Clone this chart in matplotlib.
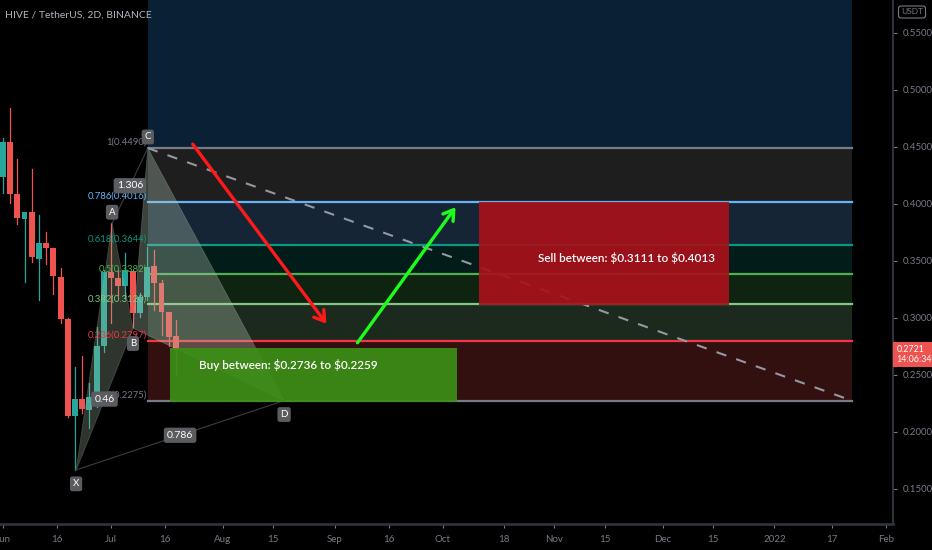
import numpy as np
import matplotlib
matplotlib.use("Agg")
from matplotlib import pyplot as plt
from matplotlib.patches import Polygon, Rectangle

plt.rcParams['font.family'] = ['Lato', 'DejaVu Sans']

# candles, 2D bars, day offset from 2021-06-01
base = np.datetime64('2021-06-01')
days = np.arange(0, 50, 2)
opens = [0.4234, 0.4541, 0.4085, 0.3866, 0.3930, 0.3520, 0.3655, 0.3611, 0.3362, 0.2989,
         0.2143, 0.2292, 0.2193, 0.2281, 0.2757, 0.3406, 0.3348, 0.3280, 0.3412, 0.3047,
         0.3187, 0.3459, 0.3304, 0.3055, 0.2842]
closes = [0.4546, 0.4088, 0.3875, 0.3930, 0.3538, 0.3655, 0.3611, 0.3368, 0.2989, 0.2143,
          0.2287, 0.2199, 0.2304, 0.2757, 0.3403, 0.3348, 0.3280, 0.3421, 0.3047, 0.3187,
          0.3450, 0.3304, 0.3055, 0.2836, 0.2721]
highs = [0.4579, 0.4840, 0.4392, 0.3930, 0.4307, 0.3904, 0.3754, 0.3611, 0.3441, 0.2997,
         0.2567, 0.2667, 0.2430, 0.2924, 0.3420, 0.3830, 0.3420, 0.3570, 0.3420, 0.3217,
         0.3625, 0.3596, 0.3333, 0.3055, 0.2982]
lows = [0.4096, 0.4006, 0.3825, 0.3318, 0.3494, 0.3158, 0.3471, 0.3208, 0.2959, 0.2134,
        0.1667, 0.2164, 0.2035, 0.2222, 0.2704, 0.2954, 0.3200, 0.3173, 0.2910, 0.3011,
        0.3158, 0.3070, 0.2851, 0.2750, 0.2500]

# fib retracement
fib_ratios = [1, 0.786, 0.618, 0.5, 0.382, 0.236, 0]
fib_prices = [0.4490, 0.4016, 0.3644, 0.3382, 0.3120, 0.2797, 0.2275]
fib_colors = ['#787b86', '#64b5f6', '#089981', '#4caf50', '#81c784', '#f23645', '#787b86']
fib_fills = ['#1e1e1f', '#152536', '#021c1a', '#0f2311', '#1b2a1d', '#331010']
fib_top_fill = '#0a2135'
fib_x = [40.2, 235.5]

# harmonic pattern points
pat_names = ['X', 'A', 'B', 'C', 'D']
pat_x = [20.3, 30.3, 36.1, 40.2, 78.0]
pat_y = [0.1667, 0.3830, 0.2910, 0.4490, 0.2275]

# zones
buy_x = [46.3, 126.0]
buy_y = [0.2259, 0.2736]
sell_x = [132.0, 201.4]
sell_y = [0.3111, 0.4013]

red_arrow = [(52.2, 0.4544), (90.2, 0.2930)]
green_arrow = [(97.9, 0.2763), (126.0, 0.3991)]

tick_dates = ['2021-06-01', '2021-06-16', '2021-07-01', '2021-07-16', '2021-08-01', '2021-08-15',
              '2021-09-01', '2021-09-16', '2021-10-01', '2021-10-18', '2021-11-01', '2021-11-15',
              '2021-12-01', '2021-12-15', '2022-01-01', '2022-01-17', '2022-02-01']
tick_labels = ['Jun', '16', 'Jul', '16', 'Aug', '15', 'Sep', '16', 'Oct', '18', 'Nov', '15',
               'Dec', '15', '2022', '17', 'Feb']
price_ticks = [0.15, 0.20, 0.25, 0.30, 0.35, 0.40, 0.45, 0.50, 0.55]
last_price = 0.2721

fig = plt.figure(figsize=(9.32, 5.5), dpi=100, facecolor='black')
ax = fig.add_axes([0, 26 / 550, 893 / 932, 524 / 550], facecolor='black')
ax.set_xlim(-0.8, 246.9)
ax.set_ylim(0.1193, 0.5789)

# fib fills and lines
x0, x1 = fib_x
ax.add_patch(Rectangle((x0, fib_prices[0]), x1 - x0, 1, color=fib_top_fill, zorder=1, lw=0))
for i in range(len(fib_fills)):
    ax.add_patch(Rectangle((x0, fib_prices[i + 1]), x1 - x0, fib_prices[i] - fib_prices[i + 1],
                           color=fib_fills[i], zorder=1, lw=0))
for r, p, c in zip(fib_ratios, fib_prices, fib_colors):
    ax.plot([x0, x1], [p, p], color=c, lw=1.6, zorder=2)
    ax.text(x0 - 0.3, p + 0.001, "%g(%.4f)" % (r, p), color=c, fontsize=6.8,
            ha='right', va='bottom', zorder=6)

# candles
for d, o, h, l, c in zip(days, opens, highs, lows, closes):
    col = '#26a69a' if c >= o else '#ef5350'
    ax.plot([d, d], [l, h], color=col, lw=0.9, zorder=3)
    ax.bar(d, abs(c - o) if abs(c - o) > 0.0005 else 0.0008, width=1.65,
           bottom=min(o, c), color=col, zorder=3)

# harmonic triangles
P = list(zip(pat_x, pat_y))
ax.add_patch(Polygon([P[0], P[1], P[2]], closed=True, facecolor='#a8c0a0', alpha=0.28,
                     edgecolor='#a8c0a0', lw=0.5, zorder=4))
ax.add_patch(Polygon([P[2], P[3], P[4]], closed=True, facecolor='#b8ccb8', alpha=0.32,
                     edgecolor='#b8ccb8', lw=0.5, zorder=4))
for a, b in [(0, 2), (1, 3), (0, 4)]:
    ax.plot([P[a][0], P[b][0]], [P[a][1], P[b][1]], color='#3a3d42', lw=0.8, zorder=4)

box = dict(boxstyle='round,pad=0.3,rounding_size=0.25', fc='#5a5c60', ec='none')
for (a, b), txt in zip([(0, 2), (1, 3), (0, 4)], ['0.46', '1.306', '0.786']):
    ax.text((P[a][0] + P[b][0]) / 2, (P[a][1] + P[b][1]) / 2, txt, color='white', fontsize=7.5,
            ha='center', va='center', bbox=box, zorder=7)

offsets = [-10, 8, -11, 8, -10]
for name, (px, py), off in zip(pat_names, P, offsets):
    ax.annotate(name, (px, py), xytext=(0, off), textcoords='offset points', color='white',
                fontsize=7, ha='center', va='center', bbox=box, zorder=7)

# dashed projection line
ax.plot([x0, x1], [fib_prices[0], fib_prices[-1]], color='#9598a1', lw=1.5,
        dashes=(5, 5), zorder=4)

# buy / sell zones
ax.add_patch(Rectangle((buy_x[0], buy_y[0]), buy_x[1] - buy_x[0], buy_y[1] - buy_y[0],
                       color='#3b8f16', alpha=0.92, lw=0, zorder=5))
ax.text(buy_x[0] + 8.2, 0.2585, r"Buy between: \$0.2736 to \$0.2259", color='white',
        fontsize=8.5, fontweight='semibold', ha='left', va='center', zorder=8)
ax.add_patch(Rectangle((sell_x[0], sell_y[0]), sell_x[1] - sell_x[0], sell_y[1] - sell_y[0],
                       color='#a8111a', alpha=0.92, lw=0, zorder=5))
ax.text(sell_x[1] - 4.0, 0.3526, r"Sell between: \$0.3111 to \$0.4013", color='white',
        fontsize=8.5, fontweight='semibold', ha='right', va='center', zorder=8)

# arrows
ax.annotate('', xy=red_arrow[1], xytext=red_arrow[0], zorder=9,
            arrowprops=dict(arrowstyle='->,head_length=0.7,head_width=0.45', color='#ff1a1a', lw=2.4))
ax.annotate('', xy=green_arrow[1], xytext=green_arrow[0], zorder=9,
            arrowprops=dict(arrowstyle='->,head_length=0.7,head_width=0.45', color='#1aff1a', lw=2.4))

# axes styling
for s in ['top', 'left']:
    ax.spines[s].set_visible(False)
ax.spines['right'].set_color('#2f323a')
ax.spines['bottom'].set_color('#2f323a')
ax.spines['right'].set_linewidth(1.5)
ax.spines['bottom'].set_linewidth(2)
ax.yaxis.tick_right()
ax.set_yticks(price_ticks)
ax.set_yticklabels(["%.4f" % p for p in price_ticks])
tick_days = (np.array(tick_dates, dtype='datetime64[D]') - base).astype(int)
ax.set_xticks(tick_days)
ax.set_xticklabels(tick_labels)
ax.tick_params(axis='both', colors='#787b86', labelsize=7, length=3, width=0.8)
ax.tick_params(axis='y', pad=4)
ax.tick_params(axis='x', pad=5)

ax.annotate("0.2721\n14:06:34", xy=(1.0, 0.268), xycoords=('axes fraction', 'data'),
            xytext=(2.5, 0), textcoords='offset points', color='white', fontsize=6.4,
            ha='left', va='center', linespacing=1.15, annotation_clip=False,
            bbox=dict(boxstyle='square,pad=0.35', fc='#ef5350', ec='none'), zorder=10)

fig.text(912 / 932, 1 - 12 / 550, "USDT", color='#787b86', fontsize=6, ha='center', va='center',
         bbox=dict(boxstyle='round,pad=0.3', fc='none', ec='#787b86', lw=0.8))
fig.text(5 / 932, 1 - 15 / 550, "HIVE / TetherUS, 2D, BINANCE", color='#b2b5be',
         fontsize=7.5, ha='left', va='center')

fig.savefig('out.png', dpi=100, facecolor='black')
